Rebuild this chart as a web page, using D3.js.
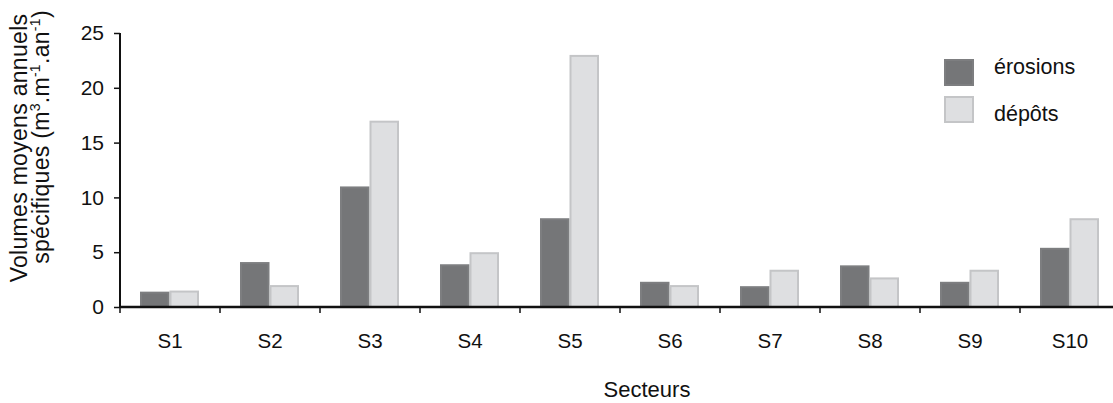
<!DOCTYPE html>
<html><head><meta charset="utf-8">
<script src="https://cdn.jsdelivr.net/npm/d3@7"></script>
<style>body{margin:0;background:#fff}svg{display:block;font-family:"Liberation Sans",Arial,sans-serif}</style>
</head><body><svg id="c" width="1113" height="403"></svg>
<script>
const categories = ["S1","S2","S3","S4","S5","S6","S7","S8","S9","S10"];
const erosions = [1.4, 4.1, 11.0, 3.9, 8.1, 2.3, 1.9, 3.8, 2.3, 5.4];
const depots   = [1.5, 2.0, 17.0, 5.0, 23.0, 2.0, 3.4, 2.7, 3.4, 8.1];
const seriesNames = ["érosions","dépôts"];
const yTicks = [0,5,10,15,20,25];

const svg = d3.select("#c");
const x = d3.scaleBand().domain(categories).range([120,1120]).padding(0);
const x1 = d3.scaleBand().domain(seriesNames).range([20,79]).padding(0);
const y = d3.scaleLinear().domain([0,25]).range([307,33]);
const fills = {"érosions":"#757678","dépôts":"#dedfe1"};
const strokes = {"érosions":"#7d7e80","dépôts":"#c4c5c7"};
const FONT = "Liberation Sans, Arial, sans-serif";

const data = [];
categories.forEach((c,i)=>{
  data.push({c, s:"érosions", v:erosions[i]});
  data.push({c, s:"dépôts", v:depots[i]});
});

svg.append("g").selectAll("rect").data(data).join("rect")
  .attr("x", d=>x(d.c)+x1(d.s)+1)
  .attr("y", d=>y(d.v)+1)
  .attr("width", x1.bandwidth()-2)
  .attr("height", d=>y(0)-y(d.v)-1)
  .attr("fill", d=>fills[d.s])
  .attr("stroke", d=>strokes[d.s])
  .attr("stroke-width", 2);

// y axis
const ya = svg.append("g").attr("transform","translate(120,0)")
  .call(d3.axisLeft(y).tickValues(yTicks).tickSize(6).tickPadding(16));
ya.select(".domain").attr("stroke","#111").attr("stroke-width",2).attr("d","M0,33V307");
ya.selectAll(".tick line").attr("stroke","#111").attr("stroke-width",1.5);
ya.selectAll(".tick text").attr("font-size",21).attr("fill","#111").attr("font-family",FONT).attr("x",-16);

// x axis
const xa = svg.append("g").attr("transform","translate(0,307)")
  .call(d3.axisBottom(x).tickSize(0).tickPadding(26));
xa.select(".domain").attr("stroke","#111").attr("stroke-width",2.5).attr("d","M120,0H1113");
xa.selectAll(".tick text").attr("font-size",20.5).attr("fill","#111").attr("font-family",FONT);
svg.append("g").selectAll("line").data(categories).join("line")
  .attr("x1",d=>x(d)).attr("x2",d=>x(d)).attr("y1",307).attr("y2",313)
  .attr("stroke","#111").attr("stroke-width",1.5);

svg.append("text").attr("x",647).attr("y",397).attr("text-anchor","middle")
  .attr("font-size",22).attr("fill","#111").text("Secteurs");

// y label
const yl = svg.append("text").attr("transform","rotate(-90)")
  .attr("text-anchor","middle").attr("font-size",23).attr("fill","#111")
  .attr("letter-spacing",0.3);
yl.append("tspan").attr("x",-148).attr("y",27).text("Volumes moyens annuels");
const t2 = yl.append("tspan").attr("x",-137).attr("y",49);
t2.append("tspan").text("spécifiques (m");
t2.append("tspan").attr("dy",-9).attr("font-size",14).text("3");
t2.append("tspan").attr("dy",9).text(".m");
t2.append("tspan").attr("dy",-9).attr("font-size",14).text("-1");
t2.append("tspan").attr("dy",9).text(".an");
t2.append("tspan").attr("dy",-9).attr("font-size",14).text("-1");
t2.append("tspan").attr("dy",9).text(")");

// legend
const leg = svg.append("g");
const legBoxY = d3.scalePoint().domain(seriesNames).range([59,96]);
const legTextY = d3.scalePoint().domain(seriesNames).range([74,121]);
seriesNames.forEach(s=>{
  leg.append("rect").attr("x",945).attr("y",legBoxY(s)+1).attr("width",28).attr("height",25)
    .attr("fill",fills[s]).attr("stroke",strokes[s]).attr("stroke-width",2);
  leg.append("text").attr("x",994).attr("y",legTextY(s)).attr("font-size",21.5).attr("fill","#111").text(s);
});
</script></body></html>
